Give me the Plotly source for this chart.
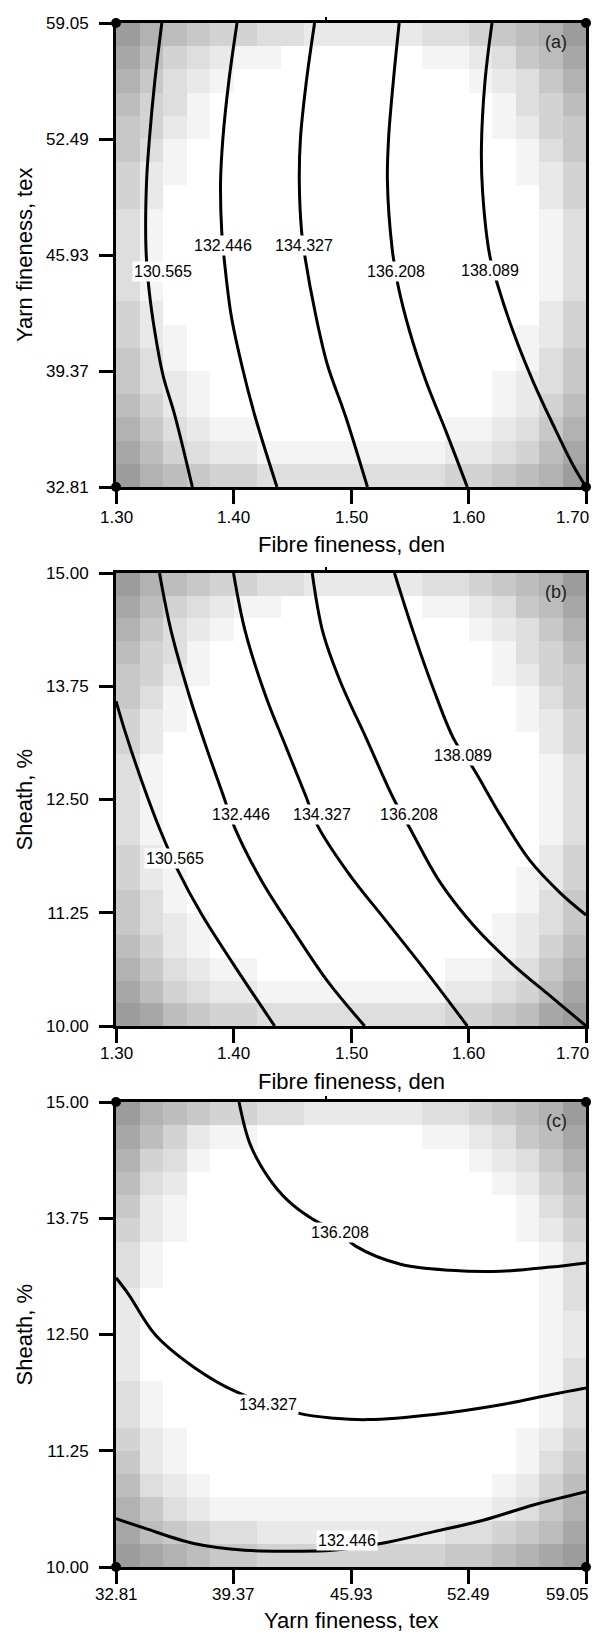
import plotly.graph_objects as go

# page is 603x1632; the browser body has an 8px margin, so the figure is offset by 8px
PAGE_W, PAGE_H, OFF = 603, 1632, 8
W, H = PAGE_W - 2 * OFF, PAGE_H - OFF

# ---------------- tick values ----------------
fibre_ticks = [1.30, 1.40, 1.50, 1.60, 1.70]
yarn_ticks = [32.81, 39.37, 45.93, 52.49, 59.05]
sheath_ticks = [10.00, 11.25, 12.50, 13.75, 15.00]

# ---------------- panel (a): fibre fineness (x) vs yarn fineness (y) ----------------
a_c1_x = [1.339, 1.333, 1.3285, 1.326, 1.3255, 1.328, 1.333, 1.340, 1.350, 1.365]
a_c1_y = [59.05, 55.74, 52.54, 50.08, 46.30, 44.04, 41.60, 39.13, 36.88, 32.81]
a_c2_x = [1.403, 1.396, 1.391, 1.389, 1.390, 1.392, 1.398, 1.407, 1.418, 1.437]
a_c2_y = [59.05, 55.74, 52.54, 50.08, 47.24, 45.75, 42.52, 39.71, 36.88, 32.81]
a_c3_x = [1.469, 1.462, 1.457, 1.456, 1.458, 1.461, 1.470, 1.480, 1.495, 1.514]
a_c3_y = [59.05, 55.74, 52.54, 50.08, 47.24, 45.75, 42.52, 39.71, 36.88, 32.81]
a_c4_x = [1.541, 1.536, 1.532, 1.531, 1.535, 1.540, 1.550, 1.564, 1.581, 1.599]
a_c4_y = [59.05, 55.74, 52.54, 50.08, 46.30, 44.22, 41.59, 38.76, 35.93, 32.81]
a_c5_x = [1.620, 1.614, 1.611, 1.612, 1.618, 1.624, 1.638, 1.655, 1.672, 1.689, 1.700]
a_c5_y = [59.05, 55.72, 51.97, 49.50, 45.93, 44.42, 41.60, 38.77, 36.33, 34.04, 32.81]
a_labels = ["130.565", "132.446", "134.327", "136.208", "138.089"]
a_label_x = [1.340, 1.391, 1.460, 1.538, 1.618]
a_label_y = [45.01, 46.45, 46.45, 45.01, 45.04]

# ---------------- panel (b): fibre fineness (x) vs sheath (y) ----------------
b_c1_x = [1.300, 1.3076, 1.322, 1.338, 1.353, 1.373, 1.400, 1.435]
b_c1_y = [13.585, 13.255, 12.70, 12.15, 11.71, 11.23, 10.68, 10.00]
b_c2_x = [1.337, 1.347, 1.363, 1.377, 1.391, 1.401, 1.424, 1.451, 1.480, 1.5116]
b_c2_y = [15.00, 14.355, 13.62, 13.07, 12.555, 12.19, 11.60, 11.05, 10.495, 10.00]
b_c3_x = [1.400, 1.410, 1.428, 1.445, 1.461, 1.472, 1.499, 1.528, 1.564, 1.599]
b_c3_y = [15.00, 14.355, 13.62, 13.07, 12.555, 12.20, 11.665, 11.19, 10.60, 10.00]
b_c4_x = [1.467, 1.476, 1.491, 1.513, 1.536, 1.550, 1.5756, 1.604, 1.638, 1.672, 1.700]
b_c4_y = [15.00, 14.35, 13.80, 13.175, 12.515, 12.185, 11.59, 11.115, 10.675, 10.305, 10.00]
b_c5_x = [1.537, 1.553, 1.570, 1.588, 1.604, 1.627, 1.652, 1.678, 1.700]
b_c5_y = [15.00, 14.35, 13.725, 13.155, 12.845, 12.33, 11.83, 11.47, 11.225]
b_labels = ["130.565", "132.446", "134.327", "136.208", "138.089"]
b_label_x = [1.350, 1.406, 1.475, 1.549, 1.5956]
b_label_y = [11.85, 12.34, 12.34, 12.34, 12.99]

# ---------------- panel (c): yarn fineness (x) vs sheath (y) ----------------
c_c1_x = [32.81, 34.44, 37.22, 40.00, 42.78, 44.88, 47.67, 50.56, 53.36, 56.16, 59.05]
c_c1_y = [10.52, 10.415, 10.25, 10.18, 10.17, 10.18, 10.255, 10.38, 10.505, 10.67, 10.81]
c_c2_x = [32.81, 33.52, 34.99, 37.22, 39.45, 42.98, 45.01, 46.84, 50.56, 54.30, 57.13, 59.05]
c_c2_y = [13.11, 12.93, 12.50, 12.14, 11.89, 11.655, 11.60, 11.585, 11.64, 11.745, 11.855, 11.925]
c_c3_x = [39.68, 40.29, 41.31, 42.41, 43.80, 45.30, 46.19, 48.70, 51.49, 54.30, 57.08, 59.05]
c_c3_y = [15.00, 14.55, 14.19, 13.94, 13.74, 13.595, 13.45, 13.255, 13.19, 13.18, 13.225, 13.27]
c_labels = ["132.446", "134.327", "136.208"]
c_label_x = [45.72, 41.31, 45.34]
c_label_y = [10.29, 11.745, 13.595]

# ---------------- background shading (darkness level 0-9, top row first) ----------------
shade_a = [
    "97654433222223345679",
    "86432110000001123568",
    "75321000000000012357",
    "64310000000000001346",
    "54210000000000001245",
    "53100000000000000135",
    "42100000000000000124",
    "42000000000000000024",
    "31000000000000000013",
    "31000000000000000013",
    "31000000000000000013",
    "31000000000000000013",
    "42000000000000000024",
    "42100000000000000124",
    "53100000000000000135",
    "53210000000000001235",
    "64210000000000001246",
    "75321100000000112357",
    "86432211111111223468",
    "97654433333333445679",
]
shade_b = [
    "97654433222223345679",
    "86432110000001123568",
    "75321000000000012357",
    "64310000000000001346",
    "54210000000000001245",
    "53100000000000000135",
    "42100000000000000124",
    "42000000000000000024",
    "31000000000000000013",
    "31000000000000000013",
    "31000000000000000013",
    "31000000000000000013",
    "42000000000000000024",
    "42100000000000000124",
    "53100000000000000135",
    "53210000000000001235",
    "64210000000000001246",
    "75321100000000112357",
    "86432211111111223468",
    "98654433333333445689",
]
shade_c = [
    "97654433222223345679",
    "86421100000001123568",
    "74310000000000012357",
    "63200000000000001246",
    "52100000000000000135",
    "42100000000000000124",
    "31000000000000000013",
    "31000000000000000013",
    "20000000000000000013",
    "20000000000000000012",
    "20000000000000000012",
    "20000000000000000013",
    "31000000000000000013",
    "31000000000000000013",
    "42100000000000000124",
    "52100000000000000135",
    "63210000000000001246",
    "75321111111111112357",
    "86543322222222334568",
    "98765544444444556789",
]

# ---------------- layout geometry (page pixels) ----------------
PX_L, PX_R = 116, 586
panels_px = [(23, 487), (573, 1026), (1102, 1567)]
ticklabel_gap = [30, 27, 27]
title_gap = [58, 55, 53]


def py(p):
    return 1 - (p - OFF) / H


def px(p):
    return (p - OFF) / W


FONT = "Liberation Sans, Arial, sans-serif"
fig = go.Figure()

panel_defs = [
    dict(xr=(1.30, 1.70), yr=(32.81, 59.05), xt=fibre_ticks, yt=yarn_ticks, shade=shade_a,
         lines=[(a_c1_x, a_c1_y), (a_c2_x, a_c2_y), (a_c3_x, a_c3_y), (a_c4_x, a_c4_y), (a_c5_x, a_c5_y)],
         labels=(a_labels, a_label_x, a_label_y), dots=True, tag="(a)",
         xtitle="Fibre fineness, den", ytitle="Yarn fineness, tex"),
    dict(xr=(1.30, 1.70), yr=(10.0, 15.0), xt=fibre_ticks, yt=sheath_ticks, shade=shade_b,
         lines=[(b_c1_x, b_c1_y), (b_c2_x, b_c2_y), (b_c3_x, b_c3_y), (b_c4_x, b_c4_y), (b_c5_x, b_c5_y)],
         labels=(b_labels, b_label_x, b_label_y), dots=False, tag="(b)",
         xtitle="Fibre fineness, den", ytitle="Sheath, %"),
    dict(xr=(32.81, 59.05), yr=(10.0, 15.0), xt=yarn_ticks, yt=sheath_ticks, shade=shade_c,
         lines=[(c_c1_x, c_c1_y), (c_c2_x, c_c2_y), (c_c3_x, c_c3_y)],
         labels=(c_labels, c_label_x, c_label_y), dots=True, tag="(c)",
         xtitle="Yarn fineness, tex", ytitle="Sheath, %"),
]

annotations = []
shapes = []
layout_axes = {}

for i, p in enumerate(panel_defs):
    n = "" if i == 0 else str(i + 1)
    xa, ya = "x" + n, "y" + n
    top, bot = panels_px[i]
    x0, x1 = p["xr"]
    y0, y1 = p["yr"]
    ncol = len(p["shade"][0])
    nrow = len(p["shade"])
    dx = (x1 - x0) / ncol
    dy = (y1 - y0) / nrow
    z = [[int(ch) for ch in row] for row in reversed(p["shade"])]
    fig.add_trace(go.Heatmap(
        z=z, x0=x0 + dx / 2, dx=dx, y0=y0 + dy / 2, dy=dy,
        colorscale=[[0, "rgb(255,255,255)"], [1, "rgb(156,156,156)"]],
        zmin=0, zmax=9, showscale=False, hoverinfo="skip", xaxis=xa, yaxis=ya))
    for lx, ly in p["lines"]:
        fig.add_trace(go.Scatter(x=lx, y=ly, mode="lines",
                                 line=dict(color="black", width=3, shape="spline", smoothing=1.0),
                                 hoverinfo="skip", showlegend=False, xaxis=xa, yaxis=ya))
    if p["dots"]:
        fig.add_trace(go.Scatter(x=[x0, x1, x0, x1], y=[y0, y0, y1, y1], mode="markers",
                                 marker=dict(color="black", size=10), cliponaxis=False,
                                 hoverinfo="skip", showlegend=False, xaxis=xa, yaxis=ya))
    labs, lxs, lys = p["labels"]
    for t, lx, ly in zip(labs, lxs, lys):
        annotations.append(dict(x=lx, y=ly, xref=xa, yref=ya, text=t, showarrow=False,
                                xanchor="center", yanchor="middle",
                                bgcolor="white", borderpad=1,
                                font=dict(family=FONT, size=16, color="black")))
    # x tick labels (last one pulled inside the page, as in the original)
    for k, tv in enumerate(p["xt"]):
        last = k == len(p["xt"]) - 1
        annotations.append(dict(x=px(591) if last else tv, xref="paper" if last else xa,
                                y=py(bot + ticklabel_gap[i]), yref="paper", text="%.2f" % tv,
                                showarrow=False, xanchor="right" if last else "center",
                                yanchor="middle",
                                font=dict(family=FONT, size=17, color="black")))
    # panel tag
    annotations.append(dict(x=px(556), y=py(top + 19), xref="paper", yref="paper", text=p["tag"],
                            showarrow=False, xanchor="center", yanchor="middle",
                            font=dict(family=FONT, size=18, color="#222")))
    # axis titles
    annotations.append(dict(x=px((PX_L + PX_R) / 2), y=py(bot + title_gap[i]), xref="paper",
                            yref="paper", text=p["xtitle"], showarrow=False,
                            xanchor="center", yanchor="middle",
                            font=dict(family=FONT, size=22, color="black")))
    annotations.append(dict(x=px(24), y=py((top + bot) / 2), xref="paper", yref="paper",
                            text=p["ytitle"], showarrow=False, textangle=-90,
                            xanchor="center", yanchor="middle",
                            font=dict(family=FONT, size=22, color="black")))
    # small mark above top border
    shapes.append(dict(type="line", xref="paper", yref="paper", x0=px(326), x1=px(326),
                       y0=py(top), y1=py(top - 6), line=dict(color="black", width=2)))

    axis_common = dict(showline=True, mirror=True, linewidth=3, linecolor="black",
                       ticks="outside", ticklen=14, tickwidth=3, tickcolor="black",
                       showgrid=False, zeroline=False, fixedrange=True, automargin=False,
                       tickfont=dict(family=FONT, size=17, color="black"))
    layout_axes["xaxis" + n] = dict(axis_common, range=[x0, x1], domain=[px(PX_L), px(PX_R)],
                                    anchor=ya, tickvals=p["xt"], showticklabels=False)
    layout_axes["yaxis" + n] = dict(axis_common, range=[y0, y1], domain=[py(bot), py(top)],
                                    anchor=xa, tickvals=p["yt"], ticklabelstandoff=7,
                                    ticktext=["%.2f" % v for v in p["yt"]])

fig.update_layout(width=W, height=H, margin=dict(l=0, r=0, t=0, b=0, autoexpand=False),
                  paper_bgcolor="white", plot_bgcolor="white", showlegend=False,
                  annotations=annotations, shapes=shapes, **layout_axes)

fig.write_html("out.html")
